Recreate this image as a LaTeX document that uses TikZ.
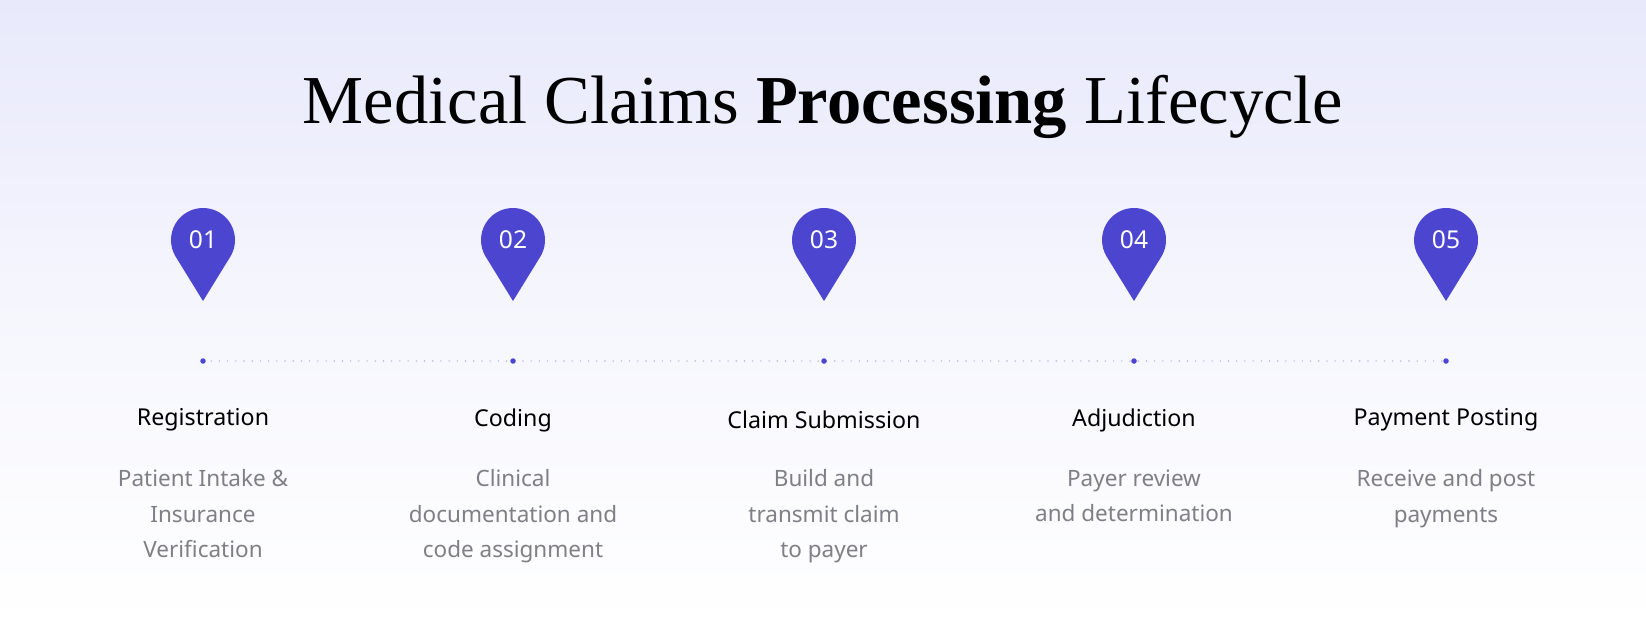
\documentclass[tikz,border=0pt]{standalone}
\usepackage{fontspec}
\setmainfont{Liberation Serif}
\setsansfont{Noto Sans}
\begin{document}
\begin{tikzpicture}[x=0.01cm,y=0.01cm,
  num/.style={text=white,font=\sffamily\fontsize{7pt}{8pt}\selectfont},
  stitle/.style={font=\sffamily\fontsize{6.6pt}{8pt}\selectfont,text=black},
  sdesc/.style={font=\sffamily\fontsize{6.4pt}{10.1pt}\selectfont,text=descgray,align=center},
  bigdot/.style={circle,fill=pincol,inner sep=0pt,minimum size=5.5pt*0.2845}]
\definecolor{pincol}{HTML}{4B45D0}
\definecolor{descgray}{HTML}{7F7F86}
\definecolor{dotgray}{HTML}{B6B6DC}
\definecolor{bgtop}{HTML}{E8E9FB}
\useasboundingbox (0,0) rectangle (1646,626);
\shade[top color=bgtop,bottom color=white,middle color=bgtop!40] (0,0) rectangle (1646,626);
\node[font=\fontsize{19.5pt}{22pt}\selectfont] (title) at (823,519) {Medical Claims \textbf{Processing} Lifecycle};
\draw[dotgray,line width=1.6pt*0.2845,line cap=round,dash pattern=on 0pt off 8.2pt*0.2845] (203,265) -- (1446,265);
\foreach \i/\x/\t/\d in {1/203/Registration/{Patient Intake \&\\Insurance\\Verification},
  2/513/Coding/{Clinical\\documentation and\\code assignment},
  3/824/Claim Submission/{Build and\\transmit claim\\to payer},
  4/1134/Adjudiction/{Payer review\\and determination},
  5/1446/Payment Posting/{Receive and post\\payments}}{
  \fill[fill=pincol] (\x,325) -- ([shift={(-31.6:32)}]\x,386) arc (-31.6:211.6:32) -- cycle;
  \node[num] (n\i) at (\x,386) {0\i};
  \node[bigdot] (d\i) at (\x,265) {};
  \node[stitle] (t\i) at (\x,206) {\t};
  \node[sdesc,anchor=north] (s\i) at (\x,169) {\d};
}
\end{tikzpicture}
\end{document}
